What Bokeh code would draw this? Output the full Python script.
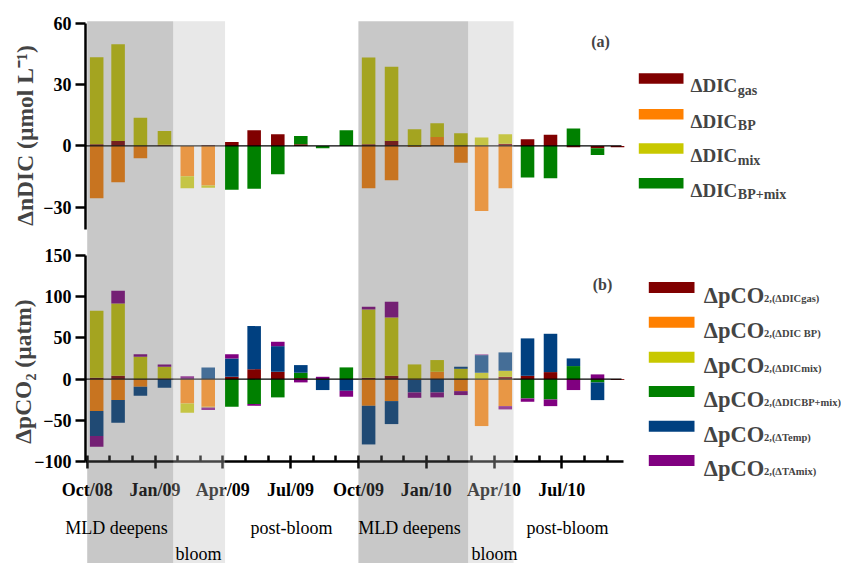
import math
from datetime import date

from bokeh.plotting import figure
from bokeh.models import Range1d, LinearAxis, FixedTicker, BoxAnnotation, Label
from bokeh.embed import file_html
from bokeh.resources import INLINE

# ---------------------------------------------------------------- data
sample_dates = ["2008-10-14", "2008-11-12", "2008-12-12", "2009-01-14", "2009-02-13", "2009-03-12",
                "2009-04-13", "2009-05-13", "2009-06-14", "2009-07-15", "2009-08-14", "2009-09-15",
                "2009-10-15", "2009-11-15", "2009-12-16", "2010-01-16", "2010-02-16", "2010-03-15",
                "2010-04-16", "2010-05-16", "2010-06-16", "2010-07-17", "2010-08-19", "2010-09-15"]

# panel (a): ΔnDIC (µmol L-1)
dic_gas   = [0.8, 2.4, 0.0, 0.0, 0.0, 0.5, 1.9, 7.6, 5.7, 0.8, 0.0, 0.0,
             0.8, 2.4, 0.0, 0.0, 0.0, 0.0, 1.1, 3.3, 5.4, -0.6, -1.1, -0.7]
dic_bp    = [-25.6, -17.8, -6.0, 0.6, -14.9, -19.4, 0.0, 0.0, 0.0, 0.0, 0.0, 0.0,
             -20.7, -16.8, -0.5, 4.4, -8.2, -31.8, -20.7, 0.0, 0.0, 0.0, 0.0, 0.0]
dic_mix   = [42.6, 47.3, 13.8, 6.7, -5.8, -1.1, 0.0, 0.0, 0.0, 0.0, 0.0, 0.0,
             42.4, 36.3, 8.2, 6.7, 6.2, 4.1, 4.6, 0.0, 0.0, 0.0, 0.0, 0.0]
dic_bpmix = [0.0, 0.0, 0.0, 0.0, 0.0, 0.0, -21.5, -21.0, -13.9, 4.1, -1.1, 7.7,
             0.0, 0.0, 0.0, 0.0, 0.0, 0.0, 0.0, -15.5, -15.8, 8.5, -3.3, 0.0]

# panel (b): ΔpCO2 (µatm)
pco2_gas   = [1.5, 4.0, 0.0, 0.0, 0.0, 0.0, 2.8, 12.1, 8.9, 1.2, 0.0, 0.0,
              1.6, 4.0, 0.0, 0.0, 0.0, 0.0, 2.8, 4.0, 8.5, -1.0, -1.0, -1.0]
pco2_bp    = [-38.8, -25.5, -9.3, 1.0, -29.5, -33.6, 0.0, 0.0, 0.0, 0.0, 0.0, 0.0,
              -32.4, -26.7, -1.0, 8.9, -14.6, -57.0, -32.8, 0.0, 0.0, 0.0, 0.0, 0.0]
pco2_mix   = [81.4, 87.8, 27.1, 14.0, -11.4, -0.8, 0.0, 0.0, 0.0, 0.0, 0.0, 0.0,
              82.9, 70.8, 17.8, 14.2, 12.5, 7.7, 7.3, 0.0, 0.0, 0.0, 0.0, 0.0]
pco2_bpmix = [0.0, 0.0, 0.0, 0.0, 0.0, 0.0, -33.6, -30.3, -22.2, 6.5, -1.0, 14.2,
              0.0, 0.0, 0.0, 0.0, 0.0, 0.0, 0.0, -23.5, -24.7, 15.8, -3.0, 0.0]
pco2_temp  = [-30.4, -27.5, -10.9, -10.5, 0.0, 14.2, 22.3, 52.2, 31.1, 9.3, -12.3, -14.2,
              -46.9, -27.9, -15.2, -16.2, 2.5, 21.4, 22.3, 45.4, 46.5, 9.3, -21.5, 0.0]
pco2_ta    = [-12.9, 15.4, 3.2, 2.8, 3.6, -3.2, 5.2, -2.1, 5.3, -4.0, 2.8, -7.2,
              3.3, 19.1, -6.5, -6.0, -4.8, 0.8, -4.0, -4.0, -8.1, -12.3, 5.7, 0.0]

tick_dates  = ["2008-10-01", "2009-01-01", "2009-04-01", "2009-07-01",
               "2009-10-01", "2010-01-01", "2010-04-01", "2010-07-01"]
tick_labels = ["Oct/08", "Jan/09", "Apr/09", "Jul/09", "Oct/09", "Jan/10", "Apr/10", "Jul/10"]

# phases: (label, start, end, shade)
phases = [("MLD deepens", "2008-10-01", "2009-01-26", "dark"),
          ("bloom",       "2009-01-26", "2009-04-04", "light"),
          ("post-bloom",  "2009-04-04", "2009-10-01", None),
          ("MLD deepens", "2009-10-01", "2010-02-25", "dark"),
          ("bloom",       "2010-02-25", "2010-04-27", "light"),
          ("post-bloom",  "2010-04-27", "2010-09-24", None)]

C_GAS, C_BP, C_MIX, C_BPMIX, C_TEMP, C_TA = "#800000", "#FF8000", "#C8C800", "#008000", "#004080", "#800080"

dic_series = [("gas", dic_gas, C_GAS), ("BP", dic_bp, C_BP), ("mix", dic_mix, C_MIX),
              ("BP+mix", dic_bpmix, C_BPMIX)]
pco2_series = [("2,(ΔDICgas)", pco2_gas, C_GAS), ("2,(ΔDIC BP)", pco2_bp, C_BP),
               ("2,(ΔDICmix)", pco2_mix, C_MIX), ("2,(ΔDICBP+mix)", pco2_bpmix, C_BPMIX),
               ("2,(ΔTemp)", pco2_temp, C_TEMP), ("2,(ΔTAmix)", pco2_ta, C_TA)]


def month_pos(s):
    y, m, d = map(int, s.split("-"))
    n = (y - 2008) * 12 + (m - 10)
    ny, nm = (y + 1, 1) if m == 12 else (y, m + 1)
    dim = (date(ny, nm, 1) - date(y, m, 1)).days
    return n + (d - 1) / dim


# ---------------------------------------------------------------- layout
W, H = 841, 563
PAGE = 0                       # observed page offset of the canvas
X0, PPM = 86.7 - PAGE, 22.6    # canvas px of month 0, px per month
TZ, TPU = 145.4 - PAGE, 2.044  # panel (a): canvas px of zero, px per unit
BZ, BPU = 378.6 - PAGE, 0.824  # panel (b)


def fx(px):
    return (px - PAGE - X0) / PPM


def ft(py):
    return (TZ - (py - PAGE)) / TPU


def fb(py):
    return (BZ - (py - PAGE)) / BPU


x_range = Range1d(-X0 / PPM, (W - X0) / PPM)
bot_range = Range1d(-(H - BZ) / BPU, BZ / BPU)
top_range = Range1d(-(H - TZ) / TPU, TZ / TPU)

p = figure(width=W, height=H, x_range=x_range, y_range=bot_range,
           x_axis_type=None, y_axis_type=None, toolbar_location=None,
           output_backend="svg", min_border=0, outline_line_color=None,
           background_fill_color="white", border_fill_color="white")
p.extra_y_ranges = {"top": top_range}

xs = [month_pos(d) for d in sample_dates]
BAR_W = 0.6


def stacked(series, range_name):
    pos = [0.0] * len(xs)
    neg = [0.0] * len(xs)
    for _, vals, col in series:
        bx, bt, bb = [], [], []
        for i, v in enumerate(vals):
            if v == 0:
                continue
            if v > 0:
                b, t = pos[i], pos[i] + v
                pos[i] = t
            else:
                t, b = neg[i], neg[i] + v
                neg[i] = b
            bx.append(xs[i]); bt.append(t); bb.append(b)
        kw = {} if range_name is None else {"y_range_name": range_name}
        p.vbar(x=bx, width=BAR_W, top=bt, bottom=bb, fill_color=col, line_color=None, **kw)


stacked(dic_series, "top")
stacked(pco2_series, None)

AX_X = fx(85)
ZERO_END = fx(621)
p.segment(x0=[AX_X], y0=[0], x1=[ZERO_END], y1=[0], line_color="black", line_width=1.3, y_range_name="top")
p.segment(x0=[AX_X], y0=[0], x1=[ZERO_END], y1=[0], line_color="black", line_width=1.3)

FONT = "Liberation Serif"


def style_axis(ax):
    ax.axis_line_width = 2.5
    ax.major_tick_line_width = 2.5
    ax.minor_tick_line_width = 2.5
    ax.major_label_text_font = FONT
    ax.major_label_text_font_style = "bold"
    ax.major_label_text_font_size = "18px"
    ax.major_label_text_color = "black"


ax_top = LinearAxis(y_range_name="top", fixed_location=AX_X, bounds=(-41, 60),
                    ticker=FixedTicker(ticks=[-30, 0, 30, 60], minor_ticks=[]))
style_axis(ax_top)
ax_top.major_tick_out, ax_top.major_tick_in = 10, 0
ax_top.minor_tick_out, ax_top.minor_tick_in = 0, 0
ax_top.major_label_standoff = 4
p.add_layout(ax_top, "left")

ax_bot = LinearAxis(fixed_location=AX_X, bounds=(-100, 150),
                    ticker=FixedTicker(ticks=[-100, -50, 0, 50, 100, 150], minor_ticks=[]))
style_axis(ax_bot)
ax_bot.major_tick_out, ax_bot.major_tick_in = 10, 0
ax_bot.minor_tick_out, ax_bot.minor_tick_in = 0, 0
ax_bot.major_label_standoff = 4
p.add_layout(ax_bot, "left")

tick_pos = [month_pos(d) for d in tick_dates]
minor_pos = [float(m) for m in range(0, 24)]
ax_x = LinearAxis(fixed_location=-100, bounds=(AX_X, fx(623)),
                  ticker=FixedTicker(ticks=tick_pos, minor_ticks=minor_pos),
                  major_label_overrides={t: l for t, l in zip(tick_pos, tick_labels)})
style_axis(ax_x)
ax_x.major_tick_out, ax_x.major_tick_in = 7, 0
ax_x.minor_tick_out, ax_x.minor_tick_in = 0, 6
ax_x.major_label_standoff = 11
p.add_layout(ax_x, "below")

# shading of phases (drawn over bars and axes, as in the original)
SHADE = {"dark": ("#5E5E5E", 0.34), "light": ("#BFBFBF", 0.36)}
for name, s, e, shade in phases:
    if shade is None:
        continue
    col, alpha = SHADE[shade]
    p.add_layout(BoxAnnotation(left=month_pos(s), right=month_pos(e), top=ft(20.7),
                               bottom=top_range.start, y_range_name="top",
                               fill_color=col, fill_alpha=alpha, line_color=None))

# phase labels
phase_label_pos = [(116, 527), (198, 553), (291, 527), (409, 527), (494, 553), (567, 527)]
for (name, _, _, _), (px, py) in zip(phases, phase_label_pos):
    p.add_layout(Label(x=fx(px), y=fb(py), text=name, text_font=FONT, text_font_size="18px",
                       text_align="center", text_baseline="alphabetic", text_color="black"))

# axis titles
p.add_layout(Label(x=fx(24), y=ft(135), y_range_name="top", text="ΔnDIC (µmol L⁻¹)",
                   angle=math.pi / 2, text_font=FONT, text_font_style="bold", text_font_size="23.5px",
                   text_align="center", text_baseline="middle"))
p.add_layout(Label(x=fx(22), y=fb(371), text="ΔpCO₂ (µatm)",
                   angle=math.pi / 2, text_font=FONT, text_font_style="bold", text_font_size="23.5px",
                   text_align="center", text_baseline="middle"))

# panel tags
p.add_layout(Label(x=fx(600), y=ft(41), y_range_name="top", text="(a)", text_font=FONT,
                   text_font_style="bold", text_font_size="16px", text_align="center", text_baseline="middle"))
p.add_layout(Label(x=fx(602), y=fb(284), text="(b)", text_font=FONT,
                   text_font_style="bold", text_font_size="16px", text_align="center", text_baseline="middle"))

# legend (a)
rows_a = [78, 113.8, 148, 182.7]
for (sub, _, col), ry in zip(dic_series, rows_a):
    p.quad(left=[fx(638.3)], right=[fx(683)], top=[ft(ry - 5.3)], bottom=[ft(ry + 5.3)],
           fill_color=col, line_color=None, y_range_name="top")
    p.add_layout(Label(x=fx(690), y=ft(ry + 7), y_range_name="top", text="ΔDIC", text_font=FONT,
                       text_font_style="bold", text_font_size="19px", text_baseline="alphabetic"))
    p.add_layout(Label(x=fx(737.3), y=ft(ry + 11.5), y_range_name="top", text=sub, text_font=FONT,
                       text_font_style="bold", text_font_size="14px", text_baseline="alphabetic"))

# legend (b)
rows_b = [287, 321.7, 356.7, 391, 425.7, 460]
for (sub, _, col), ry in zip(pco2_series, rows_b):
    p.quad(left=[fx(648.3)], right=[fx(694)], top=[fb(ry - 5.5)], bottom=[fb(ry + 5.5)],
           fill_color=col, line_color=None)
    p.add_layout(Label(x=fx(703.3), y=fb(ry + 8), text="ΔpCO", text_font=FONT,
                       text_font_style="bold", text_font_size="22.5px", text_baseline="alphabetic"))
    p.add_layout(Label(x=fx(763.5), y=fb(ry + 11), text=sub, text_font=FONT,
                       text_font_style="bold", text_font_size="10.5px", text_baseline="alphabetic"))

open("out.html", "w").write(file_html(p, INLINE))
